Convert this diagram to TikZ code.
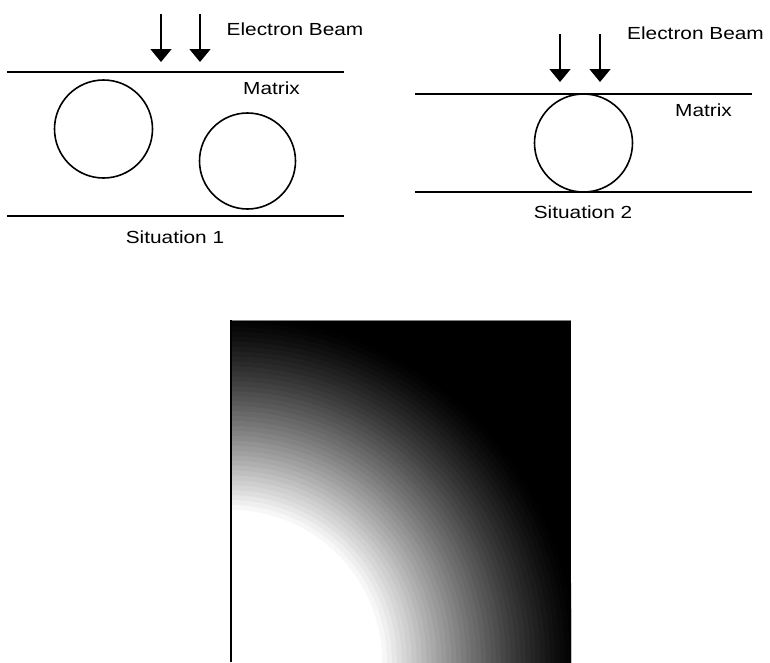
\documentclass[tikz,border=0pt]{standalone}
\usepackage{fontspec}
\setmainfont{Liberation Sans}
\usetikzlibrary{arrows.meta}
\newcommand{\wtxt}[1]{\scalebox{1.19}[1]{#1}}
\tikzset{
  lbl/.style={font=\fontsize{17.5}{20}\selectfont, inner sep=0pt, anchor=base},
  layer/.style={line width=1.6pt, black},
  particle/.style={line width=1.6pt, draw=black},
  beam/.style={line width=1.7pt, -{Triangle[width=21pt,length=13pt]}}
}
\begin{document}
\begin{tikzpicture}[x=1pt,y=-1pt]
\useasboundingbox (0,0) rectangle (770,662);
% ---------- Situation 1 ----------
\coordinate (m1l) at (7,72);   \coordinate (m1r) at (344,72);
\coordinate (b1l) at (7,216);  \coordinate (b1r) at (344,216);
\draw[layer] (m1l) -- (m1r);
\draw[layer] (b1l) -- (b1r);
\node[particle, circle, minimum size=98pt, inner sep=0pt] (p1a) at (103.5,129) {};
\node[particle, circle, minimum size=96pt, inner sep=0pt] (p1b) at (247.5,161) {};
\coordinate (a1s) at (161,14); \coordinate (a1e) at (161,62);
\coordinate (a2s) at (200,14);   \coordinate (a2e) at (200,62);
\draw[beam] (a1s) -- (a1e);
\draw[beam] (a2s) -- (a2e);
\node[lbl] (eb1) at (295,35) {\wtxt{Electron Beam}};
\node[lbl] (mx1) at (271.5,94) {\wtxt{Matrix}};
\node[lbl] (s1) at (175,243) {\wtxt{Situation 1}};
% ---------- Situation 2 ----------
\coordinate (m2l) at (415,94);   \coordinate (m2r) at (752,94);
\coordinate (b2l) at (415,192);  \coordinate (b2r) at (752,192);
\draw[layer] (m2l) -- (m2r);
\draw[layer] (b2l) -- (b2r);
\node[particle, circle, minimum size=98pt, inner sep=0pt] (p2) at (583.5,143) {};
\coordinate (a3s) at (560,34); \coordinate (a3e) at (560,82);
\coordinate (a4s) at (600,34); \coordinate (a4e) at (600,82);
\draw[beam] (a3s) -- (a3e);
\draw[beam] (a4s) -- (a4e);
\node[lbl] (eb2) at (695.5,39) {\wtxt{Electron Beam}};
\node[lbl] (mx2) at (703.5,116) {\wtxt{Matrix}};
\node[lbl] (s2) at (583,218) {\wtxt{Situation 2}};
% ---------- Intensity map ----------
\coordinate (c0) at (230,662);
\begin{scope}
  \clip (230,320) rectangle (571,662);
  \fill[black] (230,320) rectangle (571,662);
  \foreach \i in {0,...,40}{
    \pgfmathsetmacro{\r}{350-\i*4.95}
    \pgfmathsetmacro{\t}{max(0,min(1,(\r-152)/198))}
    \pgfmathsetmacro{\b}{(1-\t)^1.3}
    \pgfmathsetmacro{\k}{100*(1-\b)}
    \fill[black!\k] (c0) circle (\r);
  }
  \fill[white] (c0) circle (152);
\end{scope}
\draw[gray, line width=1pt] (230,320.5) -- (571,320.5);
\draw[black, line width=2pt] (231,320) -- (231,662);
\end{tikzpicture}
\end{document}
